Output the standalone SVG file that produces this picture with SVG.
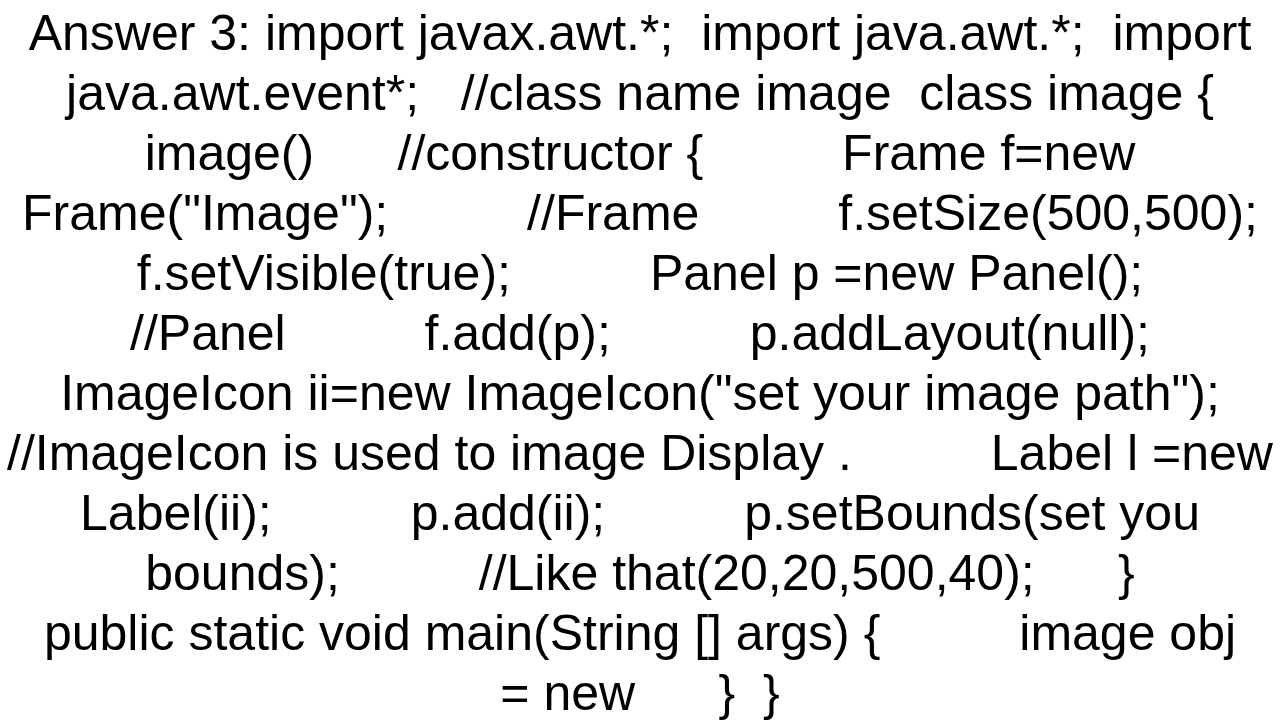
<svg xmlns="http://www.w3.org/2000/svg" width="1280" height="720" viewBox="0 0 1280 720">
<style>
text{font-family:"Liberation Sans",Arial,sans-serif;font-size:50px;fill:#000;text-anchor:middle;white-space:pre}
</style>
<rect width="1280" height="720" fill="#fff"/>
<text x="640" y="50">Answer 3: import javax.awt.*;  import java.awt.*;  import</text>
<text x="640" y="110">java.awt.event*;   //class name image  class image {</text>
<text x="640" y="170">image()      //constructor {          Frame f=new</text>
<text x="640" y="230">Frame("Image");          //Frame          f.setSize(500,500);</text>
<text x="640" y="290">f.setVisible(true);          Panel p =new Panel();</text>
<text x="640" y="350">//Panel          f.add(p);          p.addLayout(null);</text>
<text x="640" y="410">ImageIcon ii=new ImageIcon("set your image path");</text>
<text x="640" y="470">//ImageIcon is used to image Display .          Label l =new</text>
<text x="640" y="530">Label(ii);          p.add(ii);          p.setBounds(set you</text>
<text x="640" y="590">bounds);          //Like that(20,20,500,40);      }</text>
<text x="640" y="650">public static void main(String [] args) {          image obj</text>
<text x="640" y="710">= new      }  }</text>
</svg>
